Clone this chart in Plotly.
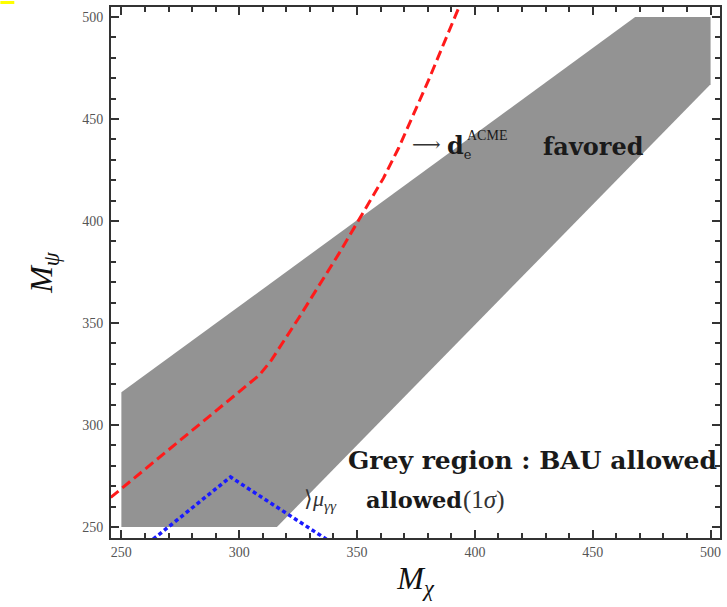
import plotly.graph_objects as go

# BAU-allowed band in the (M_chi, M_psi) plane (polygon vertices)
bau_mchi = [250, 250, 468, 500, 500, 316, 250]
bau_mpsi = [250, 316, 500, 500, 467, 250, 250]

# d_e (ACME) boundary
acme_mchi = [245.5, 308.5, 313.6, 325.4, 342.3, 353.8, 361.2, 367.7, 374.0, 380.4, 393.1, 395.0]
acme_mpsi = [264.5, 324.4, 331.7, 352.7, 384.0, 406.6, 421.0, 435.9, 452.3, 469.2, 504.4, 510.0]

# mu_gamma-gamma 1 sigma boundary
mugg_mchi = [263.5, 296.3, 337.0]
mugg_mpsi = [244.0, 274.5, 244.0]

tick_vals = [250, 300, 350, 400, 450, 500]

serif = "Liberation Serif"
text_font = "DejaVu Serif"

fig = go.Figure()

fig.add_trace(go.Scatter(
    x=bau_mchi, y=bau_mpsi, mode="lines", fill="toself",
    fillcolor="#939393", line=dict(width=0, color="#939393"),
    hoverinfo="skip", showlegend=False,
))
fig.add_trace(go.Scatter(
    x=acme_mchi, y=acme_mpsi, mode="lines",
    line=dict(color="#ff1a1a", width=3, dash="10px,5px"),
    showlegend=False,
))
fig.add_trace(go.Scatter(
    x=mugg_mchi, y=mugg_mpsi, mode="lines",
    line=dict(color="#1a1aff", width=3.5, dash="4px,3px"),
    showlegend=False,
))

axis_common = dict(
    tickvals=tick_vals,
    ticks="inside", ticklen=8, tickwidth=1.5, tickcolor="#333",
    minor=dict(dtick=10, ticks="inside", ticklen=5, tickwidth=1.5, tickcolor="#333"),
    showline=True, linecolor="#333", linewidth=2, mirror="ticks",
    showgrid=False, zeroline=False,
    tickfont=dict(family=serif, size=14, color="#555"),
)

fig.update_xaxes(
    range=[245.6, 504.0],
    title=dict(text="<i>M</i><sub><i>χ</i></sub>",
               font=dict(family=serif, size=32, color="#111"), standoff=8),
    **axis_common,
)
fig.update_yaxes(
    range=[244.6, 504.9],
    title=dict(text="<i>M</i><sub><i>ψ</i></sub>",
               font=dict(family=serif, size=32, color="#111"), standoff=20),
    ticklabelstandoff=3,
    **axis_common,
)

def label(x, y, text, size, bold=True, family=text_font, color="#1a1a1a"):
    fig.add_annotation(
        x=x, y=y, xref="x", yref="y", text=(f"<b>{text}</b>" if bold else text),
        showarrow=False, xanchor="left", yanchor="middle",
        font=dict(family=family, size=size, color=color),
    )

# d_e^ACME favored
label(372.3, 437.5, "⟶", 20, bold=False, family=text_font, color="#333")
label(387.2, 436.4, "<b>d</b><sub><span style='font-size:13px;font-weight:normal'>e</span></sub>",
      24, bold=False)
label(395.6, 442.0, "ACME", 14, bold=False, family=serif)
label(428.1, 436.4, "favored", 24)

# BAU and mu_gamma-gamma labels
label(345.3, 282.8, "Grey region : BAU allowed", 25)
label(326.7, 263.2, "⟩<i>μ</i><sub><i>γγ</i></sub>", 22, bold=False, family=serif, color="#333")
label(352.9, 263.2, "allowed", 22.5)
label(394.3, 263.2, "(1<i>σ</i>)", 25, bold=False, family=serif, color="#333")

# small yellow mark in the top-left corner
fig.add_shape(type="rect", xref="paper", yref="paper",
              x0=-0.1817, x1=-0.1588, y0=1.0056, y1=1.0113,
              fillcolor="#ffff00", line=dict(width=0))

fig.update_layout(
    width=727, height=607,
    margin=dict(l=111, r=5, t=6, b=69),
    plot_bgcolor="white", paper_bgcolor="white",
    showlegend=False,
)

fig.write_html("out.html")
